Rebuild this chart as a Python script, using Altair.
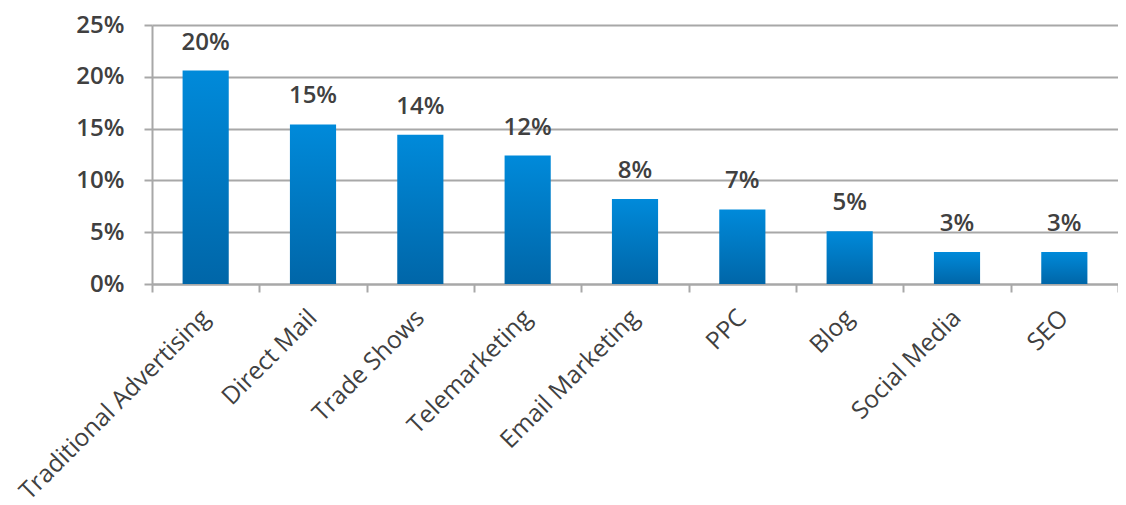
import altair as alt
import pandas as pd

categories = ["Traditional Advertising", "Direct Mail", "Trade Shows", "Telemarketing",
              "Email Marketing", "PPC", "Blog", "Social Media", "SEO"]
values = [0.206, 0.154, 0.144, 0.124, 0.082, 0.072, 0.051, 0.031, 0.031]
labels = ["20%", "15%", "14%", "12%", "8%", "7%", "5%", "3%", "3%"]

df = pd.DataFrame({"cat": categories, "val": values, "lab": labels})

FONT = "Open Sans"
TXT = "#404040"
GRID = "#a8a8a8"

x_enc = alt.X("cat:N", sort=categories, title=None,
              scale=alt.Scale(paddingInner=0, paddingOuter=0),
              axis=alt.Axis(labelAngle=-45, labelAlign="right", labelBaseline="middle",
                            labelFontSize=24.5, labelFont=FONT, labelColor=TXT,
                            labelPadding=22, tickBand="extent", tickSize=8,
                            tickColor=GRID, tickWidth=2, domainColor=GRID,
                            domainWidth=2, grid=False, labelOverlap=False,
                            labelLimit=400))

y_enc = alt.Y("val:Q", title=None,
              scale=alt.Scale(domain=[0, 0.25], nice=False),
              axis=alt.Axis(format=".0%", values=[0, 0.05, 0.10, 0.15, 0.20, 0.25],
                            labelFontSize=24, labelFont=FONT, labelFontWeight=600,
                            labelColor=TXT, labelPadding=20, tickSize=8,
                            tickColor=GRID, tickWidth=2, domainColor=GRID,
                            domainWidth=2, grid=True, gridColor=GRID, gridWidth=2))

grad = alt.LinearGradient(gradient="linear",
                          stops=[alt.GradientStop(color="#008ada", offset=0),
                                 alt.GradientStop(color="#0066a8", offset=1)],
                          x1=0, x2=0, y1=0, y2=1)

bars = alt.Chart(df).mark_bar(width=alt.RelativeBandSize(0.43), color=grad).encode(
    x=x_enc, y=y_enc)

text = alt.Chart(df).mark_text(baseline="bottom", dy=-16, fontSize=24, font=FONT,
                               fontWeight=600, color=TXT).encode(
    x=alt.X("cat:N", sort=categories),
    y=alt.Y("val:Q"),
    text="lab:N")

chart = (bars + text).properties(
    width=966, height=259,
    autosize=alt.AutoSizeParams(type="none"),
    padding={"left": 144, "top": 17, "right": 0, "bottom": 222},
).configure_view(stroke=None)

chart.save("out.html", embed_options={"renderer": "svg", "actions": False})
